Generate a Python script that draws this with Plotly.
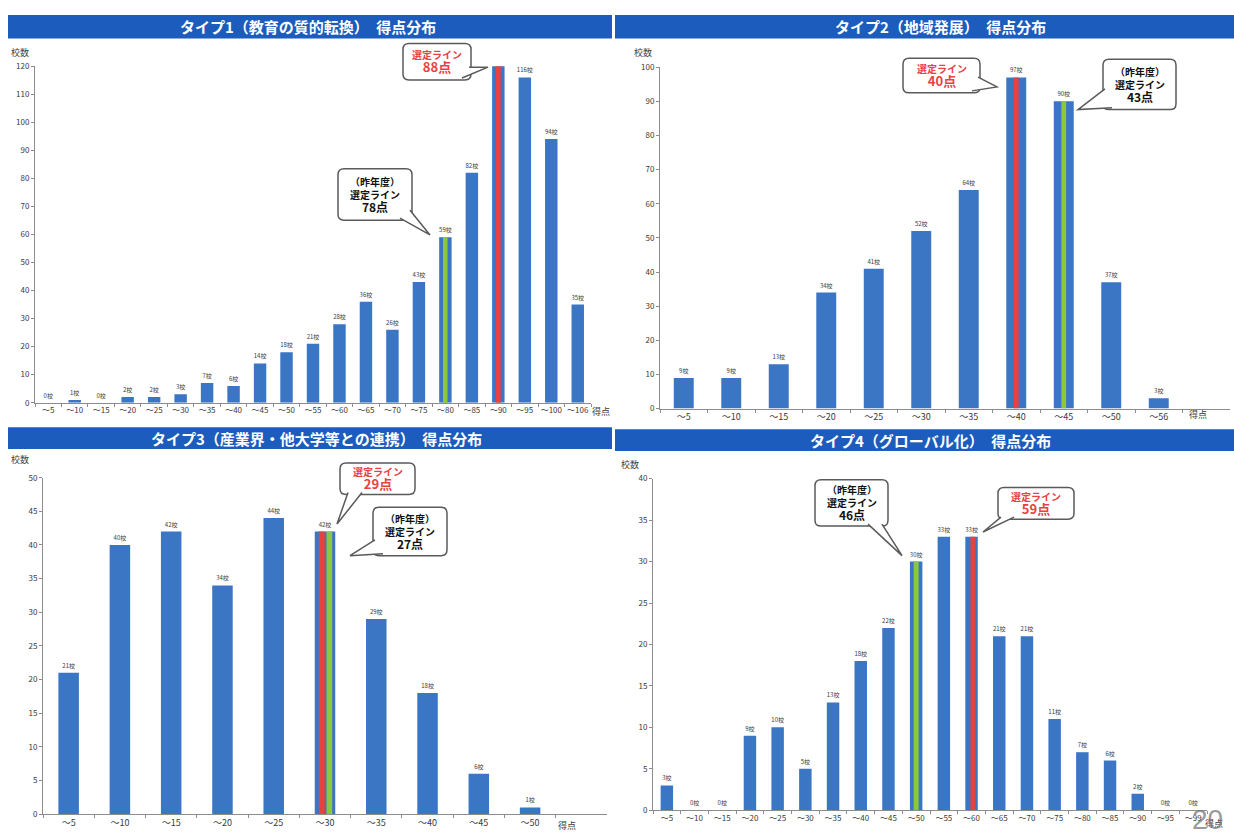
import plotly.graph_objects as go

W, H = 1234, 834

# ---------------- data ----------------
cats1 = ["～5", "～10", "～15", "～20", "～25", "～30", "～35", "～40", "～45", "～50",
         "～55", "～60", "～65", "～70", "～75", "～80", "～85", "～90", "～95", "～100", "～106"]
vals1 = [0, 1, 0, 2, 2, 3, 7, 6, 14, 18, 21, 28, 36, 26, 43, 59, 82, 121, 116, 94, 35]

cats2 = ["～5", "～10", "～15", "～20", "～25", "～30", "～35", "～40", "～45", "～50", "～56"]
vals2 = [9, 9, 13, 34, 41, 52, 64, 97, 90, 37, 3]

cats3 = ["～5", "～10", "～15", "～20", "～25", "～30", "～35", "～40", "～45", "～50"]
vals3 = [21, 40, 42, 34, 44, 42, 29, 18, 6, 1]

cats4 = ["～5", "～10", "～15", "～20", "～25", "～30", "～35", "～40", "～45", "～50",
         "～55", "～60", "～65", "～70", "～75", "～80", "～85", "～90", "～95", "～99"]
vals4 = [3, 0, 0, 9, 10, 5, 13, 18, 22, 30, 33, 33, 21, 21, 11, 7, 6, 2, 0, 0]

titles = ["タイプ1（教育の質的転換）　得点分布",
          "タイプ2（地域発展）　得点分布",
          "タイプ3（産業界・他大学等との連携）　得点分布",
          "タイプ4（グローバル化）　得点分布"]

# selection lines: (category, colour key)
marks1 = [("～80", "green"), ("～90", "red")]
marks2 = [("～40", "red"), ("～45", "green")]
marks3 = [("～30", "red"), ("～30", "green")]
marks4 = [("～50", "green"), ("～60", "red")]

# ---------------- style ----------------
FONT = "Noto Sans CJK JP"
BAR = "#3a76c4"
TITLE_BG = "#1c5cbd"
RED = "#e8423f"
GREEN = "#8dc63f"
AX = "#8c8c8c"
TXT = "#3a3a3a"


def P(x, y):
    return x / W, 1 - y / H


fig = go.Figure()

panels = [
    dict(cats=cats1, vals=vals1, marks=marks1, n="", bw=0.47, slots=21,
         xd=(35, 591), yd=(402, 61), yr=120, dt=10, xf=8,
         sw={"green": (-0.09, 0.17), "red": (-0.09, 0.18)}),
    dict(cats=cats2, vals=vals2, marks=marks2, n="2", bw=0.42, slots=12,
         xd=(660, 1230), yd=(408, 62), yr=100, dt=10, xf=9,
         sw={"green": (-0.05, 0.1), "red": (-0.05, 0.1)}),
    dict(cats=cats3, vals=vals3, marks=marks3, n="3", bw=0.40, slots=11,
         xd=(43, 607), yd=(819, 478), yr=50, dt=5, xf=9,
         sw={"red": (-0.12, 0.115), "green": (0.03, 0.11)}),
    dict(cats=cats4, vals=vals4, marks=marks4, n="4", bw=0.45, slots=20,
         xd=(653, 1207), yd=(815, 479), yr=40, dt=5, xf=8,
         sw={"green": (-0.09, 0.18), "red": (-0.04, 0.18)}),
]

colors = {"red": RED, "green": GREEN}

for p in panels:
    xa = "x" + p["n"]
    ya = "y" + p["n"]
    fig.add_trace(go.Bar(
        x=p["cats"], y=p["vals"], xaxis=xa, yaxis=ya,
        marker=dict(color=BAR, line=dict(width=0)), width=p["bw"],
        text=[f"{v}校" for v in p["vals"]], textposition="outside",
        textfont=dict(family=FONT, size=6, color=TXT),
        constraintext="none", cliponaxis=False, showlegend=False,
        hoverinfo="skip"))
    for cat, ck in p["marks"]:
        v = p["vals"][p["cats"].index(cat)]
        off, w = p["sw"][ck]
        fig.add_trace(go.Bar(
            x=[cat], y=[v], xaxis=xa, yaxis=ya, width=w, offset=off,
            marker=dict(color=colors[ck], line=dict(width=0)),
            showlegend=False, hoverinfo="skip"))

layout = dict(width=W, height=H, margin=dict(l=0, r=0, t=0, b=0),
              paper_bgcolor="white", plot_bgcolor="white",
              barmode="overlay", showlegend=False,
              font=dict(family=FONT, color=TXT))

for p in panels:
    n = p["n"]
    x0, x1 = p["xd"]
    yb, yt = p["yd"]
    layout["xaxis" + n] = dict(
        domain=[x0 / W, x1 / W], anchor="y" + n, type="category",
        range=[-0.5, p["slots"] - 0.5], showline=True, linecolor=AX, linewidth=1,
        ticks="outside", ticklen=3, tickcolor=AX, tickson="boundaries",
        tickangle=0, tickfont=dict(family=FONT, size=p["xf"], color=TXT),
        showgrid=False, zeroline=False, fixedrange=True)
    layout["yaxis" + n] = dict(
        domain=[1 - yb / H, 1 - yt / H], anchor="x" + n,
        range=[0, p["yr"]], dtick=p["dt"], showline=True, linecolor=AX,
        linewidth=1, ticks="outside", ticklen=3, tickcolor=AX,
        tickfont=dict(family=FONT, size=8, color=TXT), showgrid=False,
        zeroline=False, fixedrange=True)

fig.update_layout(**layout)

shapes = []
annots = []


def label(x, y, text, size, color=TXT, family=FONT):
    px_, py_ = P(x, y)
    annots.append(dict(x=px_, y=py_, xref="paper", yref="paper", text=text,
                       showarrow=False, xanchor="center", yanchor="middle",
                       font=dict(family=family, size=size, color=color)))


# ---- title bars ----
title_boxes = [(8, 9, 612, 33, 308), (615, 9, 1234, 33, 940),
               (8, 427, 612, 449, 316), (615, 429, 1234, 451, 930)]
for (bx0, by0, bx1, by1, cx), t in zip(title_boxes, titles):
    a0, b0 = P(bx0, by1)
    a1, b1 = P(bx1, by0)
    shapes.append(dict(type="rect", xref="paper", yref="paper", x0=a0, y0=b0,
                       x1=a1, y1=b1, fillcolor=TITLE_BG, line=dict(width=0),
                       layer="below"))
    label(cx, (by0 + by1) / 2, f"<b>{t}</b>", 15, "white")

# ---- axis captions ----
for (x, y) in [(20, 47), (643, 47), (20, 460), (630, 465)]:
    label(x, y, "校数", 9)
for (x, y) in [(601, 411), (1198, 414), (567, 830), (1214, 828)]:
    label(x, y, "得点", 9)


def rounded_path(x0, y0, x1, y1, r=6):
    pts = [("M", [(x0 + r, y0)]), ("L", [(x1 - r, y0)]), ("Q", [(x1, y0), (x1, y0 + r)]),
           ("L", [(x1, y1 - r)]), ("Q", [(x1, y1), (x1 - r, y1)]),
           ("L", [(x0 + r, y1)]), ("Q", [(x0, y1), (x0, y1 - r)]),
           ("L", [(x0, y0 + r)]), ("Q", [(x0, y0), (x0 + r, y0)])]
    s = ""
    for cmd, pl in pts:
        s += cmd + " " + " ".join(f"{P(a, b)[0]:.5f},{P(a, b)[1]:.5f}" for a, b in pl) + " "
    return s + "Z"


def callout(box, b1, b2, tip, text):
    x0, y0, x1, y1 = box
    shapes.append(dict(type="path", xref="paper", yref="paper",
                       path=rounded_path(x0, y0, x1, y1),
                       fillcolor="white", line=dict(color="#5a5a5a", width=1.5)))
    s = "M {:.5f},{:.5f} L {:.5f},{:.5f} L {:.5f},{:.5f}".format(
        *P(*b1), *P(*tip), *P(*b2))
    shapes.append(dict(type="path", xref="paper", yref="paper", path=s,
                       fillcolor="white", line=dict(color="#5a5a5a", width=1.5)))
    label((x0 + x1) / 2, (y0 + y1) / 2, text, 10, "#111111")


def red_txt(pt):
    return (f"<span style='color:{RED};font-size:10px'><b>選定ライン</b></span><br>"
            f"<span style='color:{RED};font-size:13px'><b>{pt}</b></span>")


def blk_txt(pt):
    return ("<span style='font-size:10px'><b>（昨年度）</b></span><br>"
            "<span style='font-size:10px'><b>選定ライン</b></span><br>"
            f"<span style='font-size:12px'><b>{pt}</b></span>")


callout((403, 38, 471, 75), (469, 62), (462, 73), (488, 62), red_txt("88点"))
callout((338, 165, 412, 217), (410, 207), (400, 215), (430, 232), blk_txt("78点"))
callout((903, 53, 980, 88), (978, 72), (972, 86), (997, 82), red_txt("40点"))
callout((1103, 54, 1176, 105), (1105, 84), (1112, 103), (1078, 105), blk_txt("43点"))
callout((340, 463, 415, 495), (348, 493), (362, 493), (337, 525), red_txt("29点"))
callout((373, 508, 447, 557), (375, 541), (383, 555), (350, 557), blk_txt("27点"))
callout((815, 480, 888, 527), (868, 525), (882, 525), (902, 557), blk_txt("46点"))
callout((998, 488, 1074, 520), (1001, 518), (1014, 518), (983, 533), red_txt("59点"))

# page number
label(1207, 824, "20", 28, "rgba(120,120,120,0.75)", "Liberation Sans")

fig.update_layout(shapes=shapes, annotations=annots)
fig.write_html("out.html",
               post_script="document.body.style.margin='0';"
                           "document.body.style.overflow='hidden';")
